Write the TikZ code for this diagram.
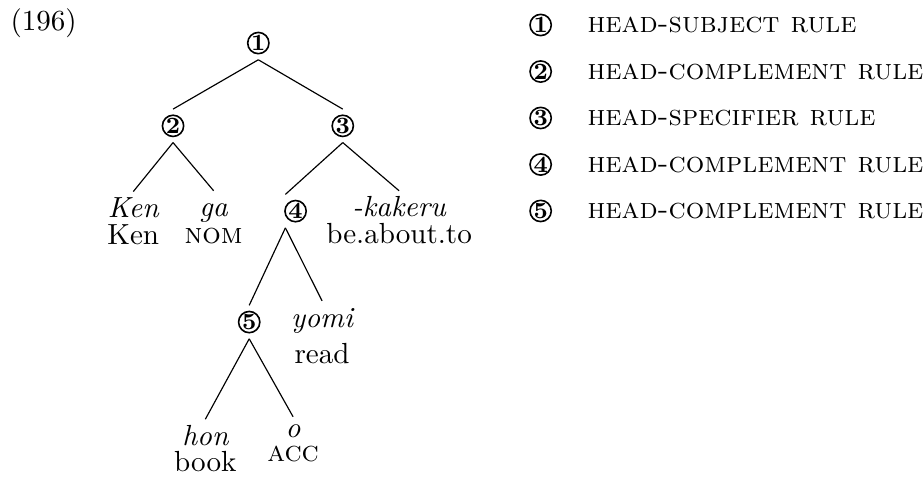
\documentclass[tikz,border=0pt]{standalone}
\usetikzlibrary{positioning}
\tikzset{
  rulenum/.style={
    circle, draw, line width=0.55pt, minimum size=7.3pt, inner sep=0pt,
    outer sep=2.1pt, font=\bfseries\footnotesize
  },
  word/.style={anchor=base, font=\itshape, text height=7pt, text depth=0pt,
    inner sep=0pt, outer sep=2pt},
  gloss/.style={anchor=base, inner sep=0pt},
  rulename/.style={anchor=base west, inner sep=0pt, font=\scshape},
  branch/.style={line width=0.4pt},
}

\begin{document}
\begin{tikzpicture}
    \useasboundingbox (0,0) rectangle (11.16,-5.75);
    \node[anchor=base west, inner sep=0pt] (exnum) at (0.12,-0.37) {(196)};

    % tree
    \node[rulenum] (n1) at (3.12,-0.52) {1};
    \node[rulenum] (n2) at (2.09,-1.52) {2};
    \node[rulenum] (n3) at (4.14,-1.52) {3};
    \node[word] (ken) at (1.61,-2.63) {Ken};
    \node[word] (ga) at (2.58,-2.62) {ga};
    \node[rulenum] (n4) at (3.57,-2.55) {4};
    \node[word] (kakeru) at (4.82,-2.62) {-kakeru};
    \node[rulenum] (n5) at (3.01,-3.89) {5};
    \node[word] (yomi) at (3.89,-3.95) {yomi};
    \node[word] (hon) at (2.48,-5.38) {hon};
    \node[word, outer sep=0pt] (o) at (3.54,-5.28) {o};

    \node[gloss, below=9.3pt of ken.base, anchor=base] (kenG) {Ken};
    \node[gloss, below=9pt of ga.base, anchor=base] (gaG) {\textsc{nom}};
    \node[gloss, below=9pt of kakeru.base, anchor=base] (kakeruG) {be.about.to};
    \node[gloss, below=12.5pt of yomi.base, anchor=base] (yomiG) {read};
    \node[gloss, below=9pt of hon.base, anchor=base] (honG) {book};
    \node[gloss, below=8.5pt of o.base, anchor=base] (oG) {\textsc{acc}};

    \draw[branch] (n1.south) -- (n2.north);
    \draw[branch] (n1.south) -- (n3.north);
    \draw[branch] (n2.south) -- (ken.north);
    \draw[branch] (n2.south) -- (ga.north);
    \draw[branch] (n3.south) -- ([xshift=-3.5pt]n4.north);
    \draw[branch] (n3.south) -- (kakeru.north);
    \draw[branch] ([xshift=-3.5pt]n4.south) -- (n5.north);
    \draw[branch] ([xshift=-3.5pt]n4.south) -- (yomi.north);
    \draw[branch] (n5.south) -- (hon.north);
    \draw[branch] (n5.south) -- (o.north);

    % legend
    \node[rulenum] (l1) at (6.53,-0.302) {1};
    \node[rulenum] (l2) at (6.53,-0.864) {2};
    \node[rulenum] (l3) at (6.53,-1.425) {3};
    \node[rulenum] (l4) at (6.53,-1.987) {4};
    \node[rulenum] (l5) at (6.53,-2.548) {5};
    \node[rulename] (t1) at (7.09,-0.394) {head-subject rule};
    \node[rulename] (t2) at (7.09,-0.955) {head-complement rule};
    \node[rulename] (t3) at (7.09,-1.517) {head-specifier rule};
    \node[rulename] (t4) at (7.09,-2.078) {head-complement rule};
    \node[rulename] (t5) at (7.09,-2.640) {head-complement rule};
\end{tikzpicture}
\end{document}
